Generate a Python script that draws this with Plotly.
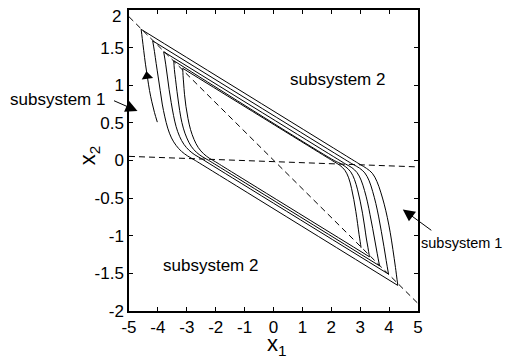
import plotly.graph_objects as go

# ---------------- data ----------------
X_TICKS = [-5, -4, -3, -2, -1, 0, 1, 2, 3, 4, 5]
X_TICK_TEXT = ["-5", "-4", "-3", "-2", "-1", "0", "1", "2", "3", "4", "5"]
Y_TICKS = [-2, -1.5, -1, -0.5, 0, 0.5, 1, 1.5, 2]
Y_TICK_TEXT = ["-2", "-1.5", "-1", "-0.5", "0", "0.5", "1", "1.5", ""]
Y_TOP_LABEL = "2"   # drawn slightly below its tick, as in the original

# switching vertices on the diagonal line (top-left V, bottom-right W)
V_X = [-4.58, -4.18, -3.80, -3.45, -3.14]
V_Y = [1.743, 1.59, 1.445, 1.326, 1.225]
W_X = [4.30, 3.98, 3.67, 3.32, 3.03]
W_Y = [-1.66, -1.51, -1.40, -1.28, -1.16]

# right-hand curves (upper line knee -> W_i)
RIGHT_X = [
    [2.8, 3.0, 3.22, 3.42, 3.58, 3.71, 3.83, 3.94, 4.04, 4.13, 4.22, 4.30],
    [2.55, 2.75, 2.97, 3.16, 3.31, 3.43, 3.54, 3.64, 3.73, 3.82, 3.90, 3.98],
    [2.3, 2.5, 2.71, 2.89, 3.03, 3.15, 3.25, 3.34, 3.43, 3.51, 3.59, 3.67],
    [2.1, 2.3, 2.5, 2.67, 2.80, 2.91, 3.0, 3.08, 3.15, 3.21, 3.27, 3.32],
    [1.9, 2.1, 2.3, 2.47, 2.60, 2.70, 2.78, 2.85, 2.91, 2.96, 3.0, 3.03],
]
RIGHT_Y = [
    [-0.006, -0.053, -0.105, -0.17, -0.28, -0.42, -0.58, -0.76, -0.96, -1.18, -1.42, -1.66],
    [-0.005, -0.051, -0.10, -0.165, -0.27, -0.41, -0.57, -0.75, -0.94, -1.14, -1.33, -1.51],
    [-0.001, -0.048, -0.095, -0.16, -0.26, -0.40, -0.55, -0.72, -0.90, -1.07, -1.24, -1.40],
    [0.0, -0.037, -0.085, -0.15, -0.25, -0.39, -0.54, -0.70, -0.87, -1.03, -1.16, -1.28],
    [0.030, -0.017, -0.065, -0.13, -0.23, -0.37, -0.52, -0.68, -0.84, -0.98, -1.08, -1.16],
]

# left-hand curves (lower line knee -> V_{i+1})
LEFT_X = [
    [-2.55, -2.75, -2.97, -3.18, -3.37, -3.53, -3.66, -3.76, -3.85, -3.92, -3.99, -4.06, -4.12, -4.18],
    [-2.3, -2.5, -2.72, -2.92, -3.10, -3.25, -3.37, -3.46, -3.54, -3.61, -3.67, -3.73, -3.80],
    [-2.05, -2.25, -2.47, -2.67, -2.85, -3.0, -3.12, -3.21, -3.28, -3.34, -3.39, -3.43, -3.45],
    [-1.8, -2.0, -2.22, -2.42, -2.60, -2.75, -2.87, -2.96, -3.03, -3.08, -3.11, -3.13, -3.14],
]
LEFT_Y = [
    [-0.037, 0.010, 0.06, 0.12, 0.20, 0.30, 0.43, 0.58, 0.75, 0.93, 1.11, 1.29, 1.45, 1.59],
    [-0.022, 0.026, 0.075, 0.135, 0.215, 0.32, 0.45, 0.60, 0.77, 0.94, 1.11, 1.28, 1.445],
    [-0.044, 0.003, 0.052, 0.11, 0.19, 0.30, 0.43, 0.58, 0.75, 0.92, 1.08, 1.21, 1.326],
    [-0.067, -0.019, 0.03, 0.09, 0.17, 0.28, 0.41, 0.56, 0.72, 0.88, 1.03, 1.13, 1.225],
]

# initial arc of the trajectory (with arrow)
START_X = [-4.02, -4.12, -4.21, -4.29, -4.36, -4.43, -4.49, -4.54, -4.58]
START_Y = [0.51, 0.64, 0.78, 0.93, 1.10, 1.28, 1.46, 1.62, 1.743]
ARROW_X = [-4.375]
ARROW_Y = [1.12]

# dashed switching lines
DIAG_X = [-5, 5]
DIAG_Y = [1.91, -1.90]
HORIZ_X = [-5, 5]
HORIZ_Y = [0.055, -0.085]

LABEL_S1 = "subsystem 1"
LABEL_S2 = "subsystem 2"

FONT = "Liberation Sans, Arial, Helvetica, sans-serif"
BLACK = "#000000"

fig = go.Figure()

dash_style = dict(color=BLACK, width=1, dash="6px,4px")

fig.add_trace(go.Scatter(x=DIAG_X, y=DIAG_Y, mode="lines", line=dash_style))
fig.add_trace(go.Scatter(x=HORIZ_X, y=HORIZ_Y, mode="lines", line=dash_style))

# initial arc
fig.add_trace(go.Scatter(x=START_X, y=START_Y, mode="lines",
                         line=dict(color=BLACK, width=1, shape="spline")))

# upper lines + right curves
for i in range(len(V_X)):
    xs = [V_X[i]] + RIGHT_X[i]
    ys = [V_Y[i]] + RIGHT_Y[i]
    fig.add_trace(go.Scatter(x=xs, y=ys, mode="lines",
                             line=dict(color=BLACK, width=1, shape="spline")))

# lower lines + left curves
for i in range(len(LEFT_X)):
    xs = [W_X[i]] + LEFT_X[i]
    ys = [W_Y[i]] + LEFT_Y[i]
    fig.add_trace(go.Scatter(x=xs, y=ys, mode="lines",
                             line=dict(color=BLACK, width=1, shape="spline")))

# arrowhead on the starting arc
fig.add_trace(go.Scatter(x=ARROW_X, y=ARROW_Y, mode="markers",
                         marker=dict(symbol="triangle-up", size=10, color=BLACK,
                                     angle=-8, line=dict(width=0))))

axis_common = dict(
    showgrid=False, zeroline=False, showline=True, linecolor=BLACK, linewidth=1.5,
    mirror="allticks", ticks="inside", ticklen=4, tickwidth=1, tickcolor=BLACK,
    tickfont=dict(family=FONT, size=17, color=BLACK), automargin=False,
)

# the page adds an 8px body margin, so the figure is offset/sized accordingly
fig.update_layout(
    width=511, height=352,
    margin=dict(l=121, r=101, t=2, b=49),
    paper_bgcolor="white", plot_bgcolor="white",
    showlegend=False,
    font=dict(family=FONT, color=BLACK),
    xaxis=dict(range=[-5, 5], tickvals=X_TICKS, ticktext=X_TICK_TEXT, **axis_common),
    yaxis=dict(range=[-2, 2], tickvals=Y_TICKS, ticktext=Y_TICK_TEXT, **axis_common),
)

tick_font = dict(family=FONT, size=17, color=BLACK)
fig.add_annotation(xref="paper", yref="paper", x=-0.0197, y=0.978, text=Y_TOP_LABEL,
                   showarrow=False, font=tick_font, xanchor="right", yanchor="middle")

# axis titles
title_font = dict(family=FONT, size=22, color=BLACK)
fig.add_annotation(xref="paper", yref="paper", x=0.512, y=-0.113, text="x<sub>1</sub>",
                   showarrow=False, font=title_font, xanchor="center", yanchor="middle",
                   borderpad=0)
fig.add_annotation(xref="paper", yref="paper", x=-0.138, y=0.518, text="x<sub>2</sub>",
                   showarrow=False, font=title_font, textangle=-90,
                   xanchor="center", yanchor="middle")

ann_font = dict(family=FONT, size=17, color=BLACK)
fig.add_annotation(x=2.23, y=1.08, text=LABEL_S2, showarrow=False, font=ann_font)
fig.add_annotation(x=-2.18, y=-1.39, text=LABEL_S2, showarrow=False, font=ann_font)

# left "subsystem 1" with arrow
fig.add_annotation(xref="paper", yref="paper", x=-0.0761, y=0.7043, text=LABEL_S1,
                   showarrow=False, font=ann_font, xanchor="right", yanchor="middle")
fig.add_annotation(x=-4.706, y=0.657, ax=-25, ay=-11, text="", showarrow=True,
                   arrowhead=2, arrowsize=2.4, arrowwidth=1, arrowcolor=BLACK)

# right "subsystem 1" with arrow (slightly smaller so it fits the visible page)
fig.add_annotation(xref="paper", yref="paper", x=1.006, y=0.2259, text=LABEL_S1,
                   showarrow=False, font=dict(family=FONT, size=14.5, color=BLACK),
                   xanchor="left", yanchor="middle", borderpad=0)
fig.add_annotation(x=4.474, y=-0.650, ax=30, ay=22, text="", showarrow=True,
                   arrowhead=2, arrowsize=2.4, arrowwidth=1, arrowcolor=BLACK)

fig.write_html("out.html")
